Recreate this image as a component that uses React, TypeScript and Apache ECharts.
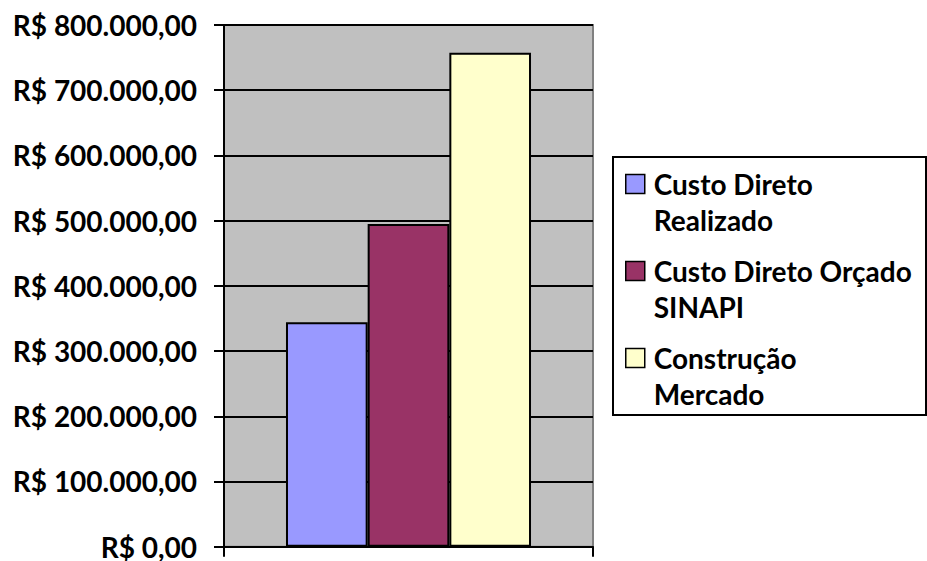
import React, { useEffect, useRef } from "react";
import * as echarts from "echarts";

const categories = [""];
const seriesNames = [
  "Custo Direto\nRealizado",
  "Custo Direto Orçado\nSINAPI",
  "Construção\nMercado",
];
const seriesValues = [344000, 495000, 757500];
const seriesColors = ["#9999FF", "#993366", "#FFFFCC"];
const yTickLabels = [
  "R$ 0,00",
  "R$ 100.000,00",
  "R$ 200.000,00",
  "R$ 300.000,00",
  "R$ 400.000,00",
  "R$ 500.000,00",
  "R$ 600.000,00",
  "R$ 700.000,00",
  "R$ 800.000,00",
];

const FONT = "Lato, 'Open Sans', sans-serif";

export default function App() {
  const ref = useRef<HTMLDivElement>(null);
  useEffect(() => {
    if (!ref.current) return;
    const chart = echarts.init(ref.current, null, { renderer: "svg" });
    const lh = 36.6;
    chart.setOption({
      animation: false,
      backgroundColor: "#ffffff",
      grid: {
        left: 224,
        right: 334,
        top: 25,
        bottom: 14.3,
        show: true,
        backgroundColor: "#C0C0C0",
        borderColor: "#808080",
        borderWidth: 2,
      },
      xAxis: {
        type: "category",
        data: categories,
        axisLine: { show: true, lineStyle: { color: "#000", width: 2 } },
        axisTick: { show: true, length: 10, lineStyle: { color: "#000", width: 2 } },
        axisLabel: { show: false },
        splitLine: { show: false },
      },
      yAxis: {
        type: "value",
        min: 0,
        max: 800000,
        interval: 100000,
        axisLine: { show: true, lineStyle: { color: "#000", width: 2 } },
        axisTick: { show: true, length: 10, lineStyle: { color: "#000", width: 2 } },
        axisLabel: {
          margin: 27,
          color: "#000",
          fontFamily: FONT,
          fontWeight: "bold",
          fontSize: 28,
          lineHeight: 24,
          formatter: (v: number) => yTickLabels[Math.round(v / 100000)],
        },
        splitLine: { show: true, lineStyle: { color: "#000", width: 2 } },
      },
      legend: {
        orient: "vertical",
        left: 625,
        top: 129,
        padding: 0,
        itemWidth: 19,
        itemHeight: 19,
        itemGap: 87 - 3 * lh,
        icon: "rect",
        formatter: (name: string) => "\n" + name,
        textStyle: {
          color: "#000",
          fontFamily: FONT,
          fontWeight: "bold",
          fontSize: 28,
          lineHeight: lh,
          padding: [0, 0, 0, 4],
        },
        itemStyle: { borderColor: "#000", borderWidth: 1.5 },
        data: seriesNames,
      },
      graphic: [
        {
          type: "rect",
          shape: { x: 613, y: 157, width: 313, height: 258 },
          style: { fill: "none", stroke: "#000", lineWidth: 2 },
          silent: true,
        },
      ],
      series: seriesNames.map((name, i) => ({
        name,
        type: "bar",
        data: [seriesValues[i]],
        barGap: "0%",
        barCategoryGap: "33.6%",
        itemStyle: { color: seriesColors[i], borderColor: "#000", borderWidth: 2 },
      })),
    });
    return () => chart.dispose();
  }, []);
  return (
    <div
      ref={ref}
      style={{ position: "fixed", left: 0, top: 0, width: 927, height: 561 }}
    />
  );
}
